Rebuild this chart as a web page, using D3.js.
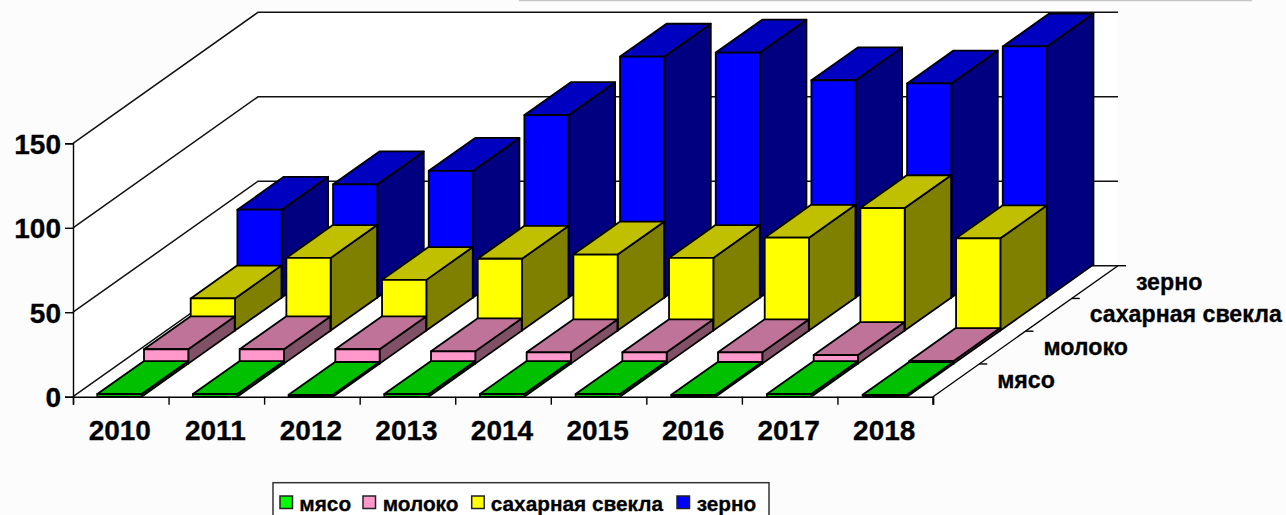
<!DOCTYPE html>
<html><head><meta charset="utf-8">
<script src="https://cdn.jsdelivr.net/npm/d3@7/dist/d3.min.js"></script>
<style>
html,body{margin:0;padding:0;background:#fcfcfc;overflow:hidden}
svg{display:block}
text{font-family:"Liberation Sans",Arial,sans-serif;font-weight:700;fill:#000;stroke:#000;stroke-width:0.3px}
</style></head><body>
<svg id="c" width="1286" height="515"></svg>
<script>
const years = ["2010","2011","2012","2013","2014","2015","2016","2017","2018"];
const seriesNames = ["мясо","молоко","сахарная свекла","зерно"];
const meat  = [1.6,1.6,1.1,1.6,1.6,1.6,1.1,1.6,1.1];
const milk  = [8.5,8.5,8.5,7.3,6.7,6.7,6.7,5.1,1.6];
const beet  = [19,43,30,42.5,45,43,55,72.5,54.6];
const grain = [52,67,75,108,142.6,145,128.6,126.7,148.6];
const seriesValues = [meat,milk,beet,grain];
const yTicks = [0,50,100,150];
const faceColors = [
  {front:"#00ff00",top:"#00c000",side:"#008000"},
  {front:"#ff99cc",top:"#c07399",side:"#805066"},
  {front:"#ffff00",top:"#c0c000",side:"#808000"},
  {front:"#0000ff",top:"#0000c0",side:"#000080"}
];

const svg = d3.select("#c");
const X0=73, X1=933, Y0=396.7, YTop=143.3, DX=185, DY=131;
const slope = DY/DX;
const y = d3.scaleLinear().domain([0,150]).range([Y0,YTop]);
const xAxisBand = d3.scaleBand().domain(years).range([X0,X1]);
const xTickScale = d3.scaleLinear().domain([0,9]).range([X0,X1]);
const barStep = 95.67;
const barX = d3.scaleBand().domain(years).range([97.3,97.3+barStep*9]);
const barW = 44.3;
const depthBars = d3.scaleBand().domain(seriesNames).range([0,186.8]);
const depthAxis = d3.scaleBand().domain(seriesNames).range([0,DX]);
const barDepth = 46.4;
const line = d3.line();

// top decoration rule
svg.append("line").attr("x1",519).attr("x2",1252).attr("y1",0.5).attr("y2",0.5)
  .attr("stroke","#c4c4c4").attr("stroke-width",1.5);

// walls and floor
const wallTop = y(150);
svg.append("path").attr("fill","#fff")
  .attr("d",line([[X0,wallTop],[X0+DX,wallTop-DY],[X1+DX,wallTop-DY],[X1+DX,Y0-DY],[X1,Y0],[X0,Y0]])+"Z");

// gridlines on both walls
yTicks.forEach(v=>{
  svg.append("path").attr("fill","none").attr("stroke","#111").attr("stroke-width",1.5)
    .attr("d",line([[X0,y(v)],[X0+DX,y(v)-DY],[X1+DX,y(v)-DY]]));
});

// floor right edge
svg.append("path").attr("fill","none").attr("stroke","#000").attr("stroke-width",1.4)
  .attr("d",line([[X1,Y0],[X1+DX,Y0-DY]]));

// bars, back series first
seriesNames.map((s,i)=>i).reverse().forEach(si=>{
  const name = seriesNames[si], off = depthBars(name), col = faceColors[si];
  const g = svg.append("g").attr("stroke","#000").attr("stroke-width",1.8).attr("stroke-linejoin","round");
  years.forEach((yr,ci)=>{
    const v = seriesValues[si][ci];
    const xl = barX(yr)+off, xr = xl+barW;
    const yb = Y0-off*slope, h = Y0-y(v), yt = yb-h;
    const dx = barDepth, dy = barDepth*slope;
    g.append("path").attr("fill",col.side).attr("d",line([[xr,yt],[xr+dx,yt-dy],[xr+dx,yb-dy],[xr,yb]])+"Z");
    g.append("path").attr("fill",col.top).attr("d",line([[xl,yt],[xl+dx,yt-dy],[xr+dx,yt-dy],[xr,yt]])+"Z");
    g.append("path").attr("fill",col.front).attr("d",line([[xl,yb],[xl,yt],[xr,yt],[xr,yb]])+"Z");
  });
});

// value axis
const yAxis = d3.axisLeft(y).tickValues(yTicks).tickSize(8).tickPadding(4);
const yg = svg.append("g").attr("transform",`translate(${X0},0)`).call(yAxis);
yg.selectAll("text").attr("font-size",28).attr("dy",null)
  .attr("y",10).style("font-family",'"Liberation Sans",Arial,sans-serif').style("font-weight",700);

// category axis: boundary ticks plus centred labels
const xTicks = d3.axisBottom(xTickScale).tickValues(d3.range(0,10)).tickSize(8).tickFormat("");
svg.append("g").attr("transform",`translate(0,${Y0})`).call(xTicks);
const xLabels = d3.axisBottom(xAxisBand).tickSize(0).tickPadding(0);
const xg = svg.append("g").attr("transform",`translate(0,${Y0})`).call(xLabels);
xg.select(".domain").remove();
xg.selectAll("text").attr("font-size",28).attr("dy",null).attr("y",43.5).attr("x",-1)
  .style("font-family",'"Liberation Sans",Arial,sans-serif').style("font-weight",700);
svg.selectAll(".domain").attr("stroke-width",1.4);
svg.selectAll(".tick line").attr("stroke-width",1.4);

// series axis on floor's right edge
const sg = svg.append("g");
seriesNames.forEach((s,i)=>{
  const d = depthAxis(s);
  const d2 = d+depthAxis.step();
  sg.append("line").attr("x1",X1+d2).attr("x2",X1+d2+8)
    .attr("y1",Y0-d2*slope).attr("y2",Y0-d2*slope).attr("stroke","#000").attr("stroke-width",1.4);
  const mid = d+depthAxis.step()/2;
  sg.append("text").attr("x",X1+mid+41).attr("y",Y0-mid*slope+7.5)
    .attr("font-size",23.2).text(s);
});
sg.append("line").attr("x1",X1).attr("x2",X1).attr("y1",Y0).attr("y2",Y0+8).attr("stroke","#000").attr("stroke-width",1.4);

// legend
const legendSwatchX = [280,363,471.7,677];
const legendTextX = [299.3,382.7,490.7,696.7];
const lg = svg.append("g");
lg.append("rect").attr("x",273).attr("y",482.7).attr("width",496).attr("height",40)
  .attr("fill","#fff").attr("stroke","#333").attr("stroke-width",1.5);
seriesNames.forEach((s,i)=>{
  lg.append("rect").attr("x",legendSwatchX[i]).attr("y",496).attr("width",12.5).attr("height",12.5)
    .attr("fill",faceColors[i].front).attr("stroke","#222").attr("stroke-width",1.5);
  lg.append("text").attr("x",legendTextX[i]).attr("y",510.7).attr("font-size",20.8).text(s);
});
</script>
</body></html>
